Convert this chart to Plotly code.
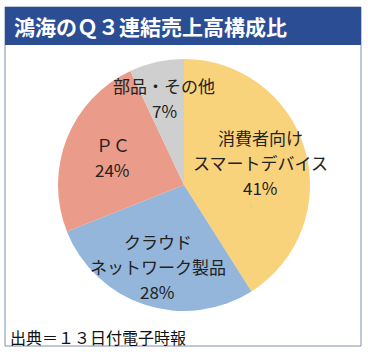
import math
import plotly.graph_objects as go

categories = ["消費者向け<br>スマートデバイス", "クラウド<br>ネットワーク製品", "ＰＣ", "部品・その他"]
values = [41, 28, 24, 7]
colors = ["#F9D27C", "#93B6DA", "#EB9B89", "#CFCFCF"]
title_text = "鴻海のＱ３連結売上高構成比"
source_text = "出典＝１３日付電子時報"

W, H = 368, 354
def px(x): return x / W
def py(y): return 1 - y / H

FONT = "Noto Sans CJK JP"

# pie geometry (pixels)
CX, CY, R = 184, 185, 126
label_radius = [0.63, 0.68, 0.61, 0.71]
LINE_H = 25

fig = go.Figure(go.Pie(
    labels=categories, values=values, sort=False, direction="clockwise", rotation=0,
    marker=dict(colors=colors, line=dict(width=0)),
    textinfo="none",
    domain=dict(x=[px(CX - R), px(CX + R)], y=[py(CY + R), py(CY - R)]),
    hoverinfo="skip", showlegend=False,
))

annotations = [
    dict(text="<b>" + title_text + "</b>", xref="paper", yref="paper", x=px(12), y=py(26),
         xanchor="left", yanchor="middle", showarrow=False,
         font=dict(family=FONT, size=21, color="white")),
    dict(text=source_text, xref="paper", yref="paper", x=px(8), y=py(337),
         xanchor="left", yanchor="middle", showarrow=False,
         font=dict(family=FONT, size=16, color="#111111")),
]

total = sum(values)
cum = 0
for cat, v, f in zip(categories, values, label_radius):
    mid = (cum + v / 2) / total * 2 * math.pi
    cum += v
    bx = CX + f * R * math.sin(mid)
    by = CY - f * R * math.cos(mid)
    lines = cat.split("<br>") + [f"{round(v / total * 100)}%"]
    n = len(lines)
    for i, line in enumerate(lines):
        ly = by + (i - (n - 1) / 2) * LINE_H
        annotations.append(dict(
            text=line, xref="paper", yref="paper", x=px(bx), y=py(ly),
            xanchor="center", yanchor="middle", showarrow=False,
            font=dict(family=FONT, size=17, color="#222222")))

fig.update_layout(
    width=W, height=H, margin=dict(l=0, r=0, t=0, b=0),
    paper_bgcolor="white", plot_bgcolor="white",
    shapes=[
        dict(type="rect", xref="paper", yref="paper", x0=px(5), x1=px(361), y0=py(346), y1=py(7),
             line=dict(color="#8090AA", width=1), fillcolor="rgba(0,0,0,0)"),
        dict(type="rect", xref="paper", yref="paper", x0=px(5), x1=px(361), y0=py(45), y1=py(7),
             line=dict(width=0), fillcolor="#2B4D93"),
    ],
    annotations=annotations,
)

fig.write_html("out.html")
